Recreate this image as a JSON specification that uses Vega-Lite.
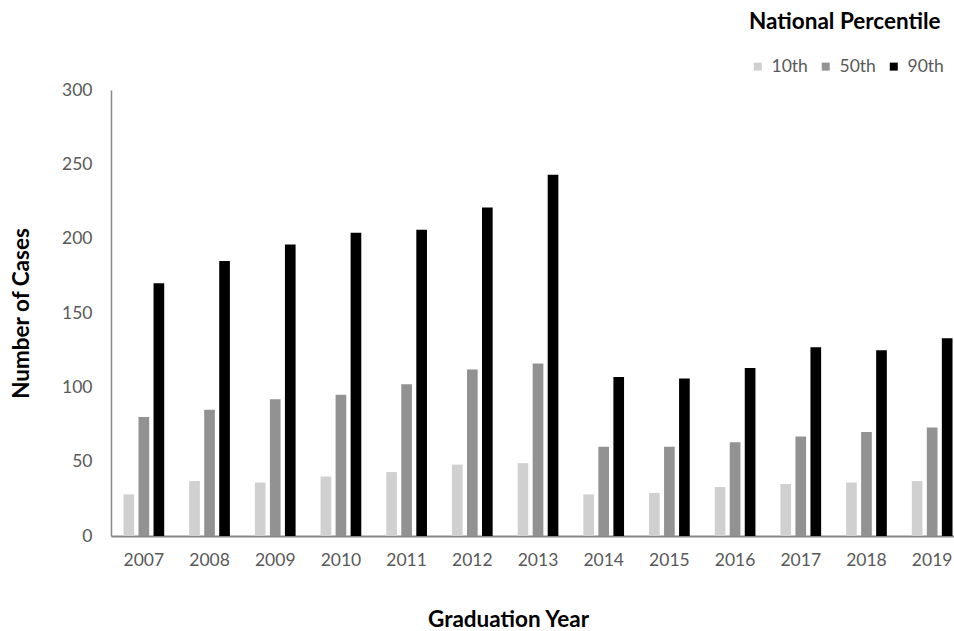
{
  "$schema": "https://vega.github.io/schema/vega-lite/v6.json",
  "width": 843,
  "height": 446,
  "autosize": {"type": "none"},
  "padding": {"left": 111, "top": 90, "right": 0, "bottom": 95},
  "background": "white",
  "config": {
    "view": {"stroke": null},
    "font": "Lato"
  },
  "data": {
    "values": [
      {"year": "2007", "pct": "10th", "cases": 28},
      {"year": "2007", "pct": "50th", "cases": 80},
      {"year": "2007", "pct": "90th", "cases": 170},
      {"year": "2008", "pct": "10th", "cases": 37},
      {"year": "2008", "pct": "50th", "cases": 85},
      {"year": "2008", "pct": "90th", "cases": 185},
      {"year": "2009", "pct": "10th", "cases": 36},
      {"year": "2009", "pct": "50th", "cases": 92},
      {"year": "2009", "pct": "90th", "cases": 196},
      {"year": "2010", "pct": "10th", "cases": 40},
      {"year": "2010", "pct": "50th", "cases": 95},
      {"year": "2010", "pct": "90th", "cases": 204},
      {"year": "2011", "pct": "10th", "cases": 43},
      {"year": "2011", "pct": "50th", "cases": 102},
      {"year": "2011", "pct": "90th", "cases": 206},
      {"year": "2012", "pct": "10th", "cases": 48},
      {"year": "2012", "pct": "50th", "cases": 112},
      {"year": "2012", "pct": "90th", "cases": 221},
      {"year": "2013", "pct": "10th", "cases": 49},
      {"year": "2013", "pct": "50th", "cases": 116},
      {"year": "2013", "pct": "90th", "cases": 243},
      {"year": "2014", "pct": "10th", "cases": 28},
      {"year": "2014", "pct": "50th", "cases": 60},
      {"year": "2014", "pct": "90th", "cases": 107},
      {"year": "2015", "pct": "10th", "cases": 29},
      {"year": "2015", "pct": "50th", "cases": 60},
      {"year": "2015", "pct": "90th", "cases": 106},
      {"year": "2016", "pct": "10th", "cases": 33},
      {"year": "2016", "pct": "50th", "cases": 63},
      {"year": "2016", "pct": "90th", "cases": 113},
      {"year": "2017", "pct": "10th", "cases": 35},
      {"year": "2017", "pct": "50th", "cases": 67},
      {"year": "2017", "pct": "90th", "cases": 127},
      {"year": "2018", "pct": "10th", "cases": 36},
      {"year": "2018", "pct": "50th", "cases": 70},
      {"year": "2018", "pct": "90th", "cases": 125},
      {"year": "2019", "pct": "10th", "cases": 37},
      {"year": "2019", "pct": "50th", "cases": 73},
      {"year": "2019", "pct": "90th", "cases": 133}
    ]
  },
  "mark": {"type": "bar"},
  "encoding": {
    "x": {
      "field": "year",
      "type": "nominal",
      "scale": {"range": [0, 854], "paddingInner": 0.38, "paddingOuter": 0.19},
      "axis": {
        "title": "Graduation Year",
        "titleFontSize": 22.5,
        "titleFontWeight": "bold",
        "titleColor": "#000000",
        "titlePadding": 40,
        "titleX": 397,
        "labelAngle": 0,
        "labelFontSize": 17.5,
        "labelColor": "#595959",
        "labelPadding": 15,
        "ticks": false,
        "tickSize": 0,
        "domainColor": "#878787",
        "domainWidth": 2,
        "grid": false
      }
    },
    "xOffset": {
      "field": "pct",
      "type": "nominal",
      "scale": {"paddingInner": 0.29, "paddingOuter": 0}
    },
    "y": {
      "field": "cases",
      "type": "quantitative",
      "scale": {"domain": [0, 300]},
      "axis": {
        "title": "Number of Cases",
        "titleFontSize": 22.5,
        "titleFontWeight": "bold",
        "titleColor": "#000000",
        "titlePadding": 28,
        "values": [0, 50, 100, 150, 200, 250, 300],
        "labelFontSize": 17.5,
        "labelColor": "#595959",
        "labelPadding": 19,
        "ticks": false,
        "tickSize": 0,
        "domainColor": "#878787",
        "domainWidth": 1.5,
        "grid": false
      }
    },
    "color": {
      "field": "pct",
      "type": "nominal",
      "scale": {"domain": ["10th", "50th", "90th"], "range": ["#d0d0d0", "#929292", "#000000"]},
      "legend": {
        "title": "National Percentile",
        "orient": "none",
        "legendX": 638,
        "legendY": -79,
        "direction": "horizontal",
        "titleFontSize": 22.5,
        "titleFontWeight": "bold",
        "titleColor": "#000000",
        "titlePadding": 24,
        "titleLimit": 400,
        "symbolType": "square",
        "symbolSize": 64,
        "symbolStrokeWidth": 0,
        "labelFontSize": 17.5,
        "labelColor": "#595959",
        "labelOffset": 5,
        "columnPadding": 9
      }
    }
  }
}
